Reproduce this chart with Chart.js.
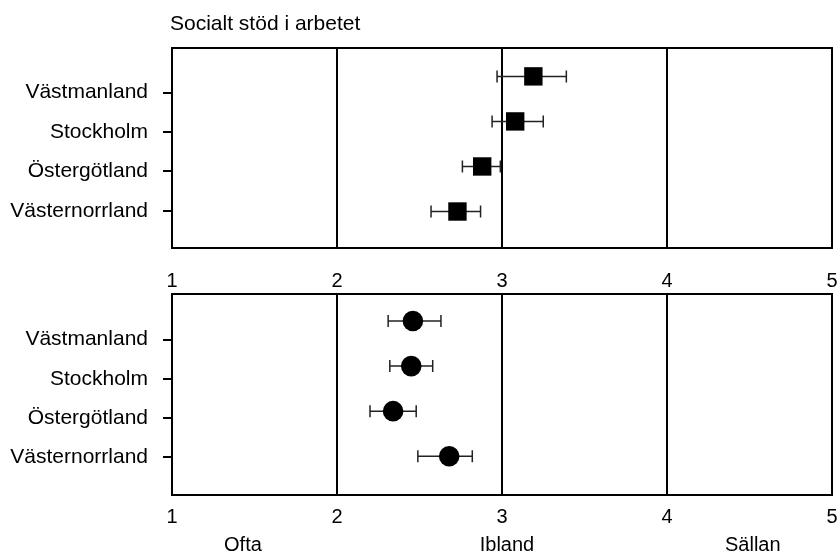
<!DOCTYPE html>
<html lang="sv">
<head>
  <meta charset="UTF-8">
  <title>Socialt stöd i arbetet</title>
  <script src="https://cdn.jsdelivr.net/npm/chart.js"></script>
  <style>
    body {
      margin: 0;
      background: #fff;
      width: 837px;
      height: 551px;
      position: relative;
      overflow: hidden;
    }
    canvas {
      position: absolute;
      left: 0;
    }
    #topChart { top: 0; }
    #bottomChart { top: 285px; }
  </style>
</head>
<body>
  <canvas id="topChart" width="837" height="300"></canvas>
  <canvas id="bottomChart" width="837" height="266"></canvas>

  <script>
    const regions = ["Västmanland", "Stockholm", "Östergötland", "Västernorrland"];
    const xTicks = [1, 2, 3, 4, 5];
    const scaleWords = ["Ofta", "Ibland", "Sällan"];
    const scaleWordPos = [1.43, 3.03, 4.52];

    // upper panel (squares)
    const topMean = [3.19, 3.08, 2.88, 2.73];
    const topLow = [2.97, 2.94, 2.76, 2.57];
    const topHigh = [3.39, 3.25, 2.99, 2.87];

    // lower panel (circles)
    const bottomMean = [2.46, 2.45, 2.34, 2.68];
    const bottomLow = [2.31, 2.32, 2.20, 2.49];
    const bottomHigh = [2.63, 2.58, 2.48, 2.82];

    Chart.defaults.font.family = "'Liberation Sans', Arial, sans-serif";
    Chart.defaults.font.size = 20;
    Chart.defaults.color = "#000";

    // the plot box is placed by hand, so no room is added for edge labels
    const noEdgePad = s => {
      s.paddingLeft = 0; s.paddingRight = 0;
      s.paddingTop = 0; s.paddingBottom = 0;
    };

    const errorBars = {
      id: "errorBars",
      beforeDatasetsDraw(chart, args, opts) {
        const ctx = chart.ctx;
        const x = chart.scales.x, y = chart.scales.yData;
        ctx.save();
        ctx.strokeStyle = "#222";
        ctx.lineWidth = 1.5;
        opts.low.forEach((lo, i) => {
          const x1 = x.getPixelForValue(lo);
          const x2 = x.getPixelForValue(opts.high[i]);
          const py = y.getPixelForValue(i);
          ctx.beginPath();
          ctx.moveTo(x1, py); ctx.lineTo(x2, py);
          ctx.moveTo(x1, py - 6); ctx.lineTo(x1, py + 6);
          ctx.moveTo(x2, py - 6); ctx.lineTo(x2, py + 6);
          ctx.stroke();
        });
        ctx.restore();
      }
    };

    const frame = {
      id: "frame",
      afterDatasetsDraw(chart) {
        const a = chart.chartArea, ctx = chart.ctx;
        ctx.save();
        ctx.strokeStyle = "#000";
        ctx.lineWidth = 2;
        ctx.strokeRect(a.left, a.top, a.right - a.left, a.bottom - a.top);
        ctx.restore();
      }
    };

    const heading = {
      id: "heading",
      afterDraw(chart, args, opts) {
        if (!opts.text) return;
        const ctx = chart.ctx;
        ctx.save();
        ctx.font = "21px 'Liberation Sans', Arial, sans-serif";
        ctx.fillStyle = "#000";
        ctx.textBaseline = "middle";
        ctx.fillText(opts.text, chart.chartArea.left - 2, 24);
        ctx.restore();
      }
    };

    function makePanel(canvasId, cfg) {
      const scales = {
        x: {
          type: "linear",
          min: 1, max: 5,
          weight: 0,
          afterBuildTicks: s => { s.ticks = xTicks.map(v => ({ value: v })); },
          ticks: { padding: cfg.tickPad, maxRotation: 0 },
          grid: { color: "#000", lineWidth: 2, drawTicks: false },
          border: { display: true, color: "#000", width: 2 },
          afterFit: s => { s.height = cfg.xHeight; noEdgePad(s); }
        },
        y: {
          type: "linear",
          reverse: true,
          min: cfg.labelMin, max: cfg.labelMax,
          afterBuildTicks: s => { s.ticks = regions.map((r, i) => ({ value: i })); },
          ticks: { padding: 15, font: { size: 21 }, callback: v => regions[v] },
          grid: { drawOnChartArea: false, color: "#000", lineWidth: 2, tickLength: 9 },
          border: { display: true, color: "#000", width: 2 },
          afterFit: s => { s.width = 172; noEdgePad(s); }
        },
        yData: {
          type: "linear",
          reverse: true,
          display: false,
          min: cfg.dataMin, max: cfg.dataMax
        }
      };
      if (cfg.words) {
        scales.x2 = {
          type: "linear",
          position: "bottom",
          min: 1, max: 5,
          weight: 1,
          afterBuildTicks: s => { s.ticks = scaleWordPos.map(v => ({ value: v })); },
          ticks: { padding: 0, maxRotation: 0, callback: (v, i) => scaleWords[i] },
          grid: { display: false },
          border: { display: false },
          afterFit: s => { s.height = 26; noEdgePad(s); }
        };
      }
      return new Chart(document.getElementById(canvasId), {
        type: "scatter",
        data: {
          datasets: [{
            data: cfg.mean.map((v, i) => ({ x: v, y: i })),
            yAxisID: "yData",
            pointStyle: cfg.style,
            pointRadius: cfg.radius,
            pointHoverRadius: cfg.radius,
            backgroundColor: "#000",
            borderColor: "#000",
            borderWidth: 0
          }]
        },
        options: {
          responsive: false,
          animation: false,
          layout: { autoPadding: false, padding: { left: 0, right: 5, top: cfg.padTop, bottom: 0 } },
          scales: scales,
          plugins: {
            legend: { display: false },
            tooltip: { enabled: false },
            errorBars: { low: cfg.low, high: cfg.high },
            heading: { text: cfg.title }
          }
        },
        plugins: [errorBars, frame, heading]
      });
    }

    makePanel("topChart", {
      mean: topMean, low: topLow, high: topHigh,
      style: "rect", radius: 13,
      labelMin: -1.13, labelMax: 3.94,
      dataMin: -0.63, dataMax: 3.81,
      padTop: 48, xHeight: 52, tickPad: 21,
      title: "Socialt stöd i arbetet",
      words: false
    });

    makePanel("bottomChart", {
      mean: bottomMean, low: bottomLow, high: bottomHigh,
      style: "circle", radius: 10.3,
      labelMin: -1.165, labelMax: 3.96,
      dataMin: -0.6, dataMax: 3.86,
      padTop: 9, xHeight: 30, tickPad: 10,
      title: "",
      words: true
    });
  </script>
</body>
</html>
